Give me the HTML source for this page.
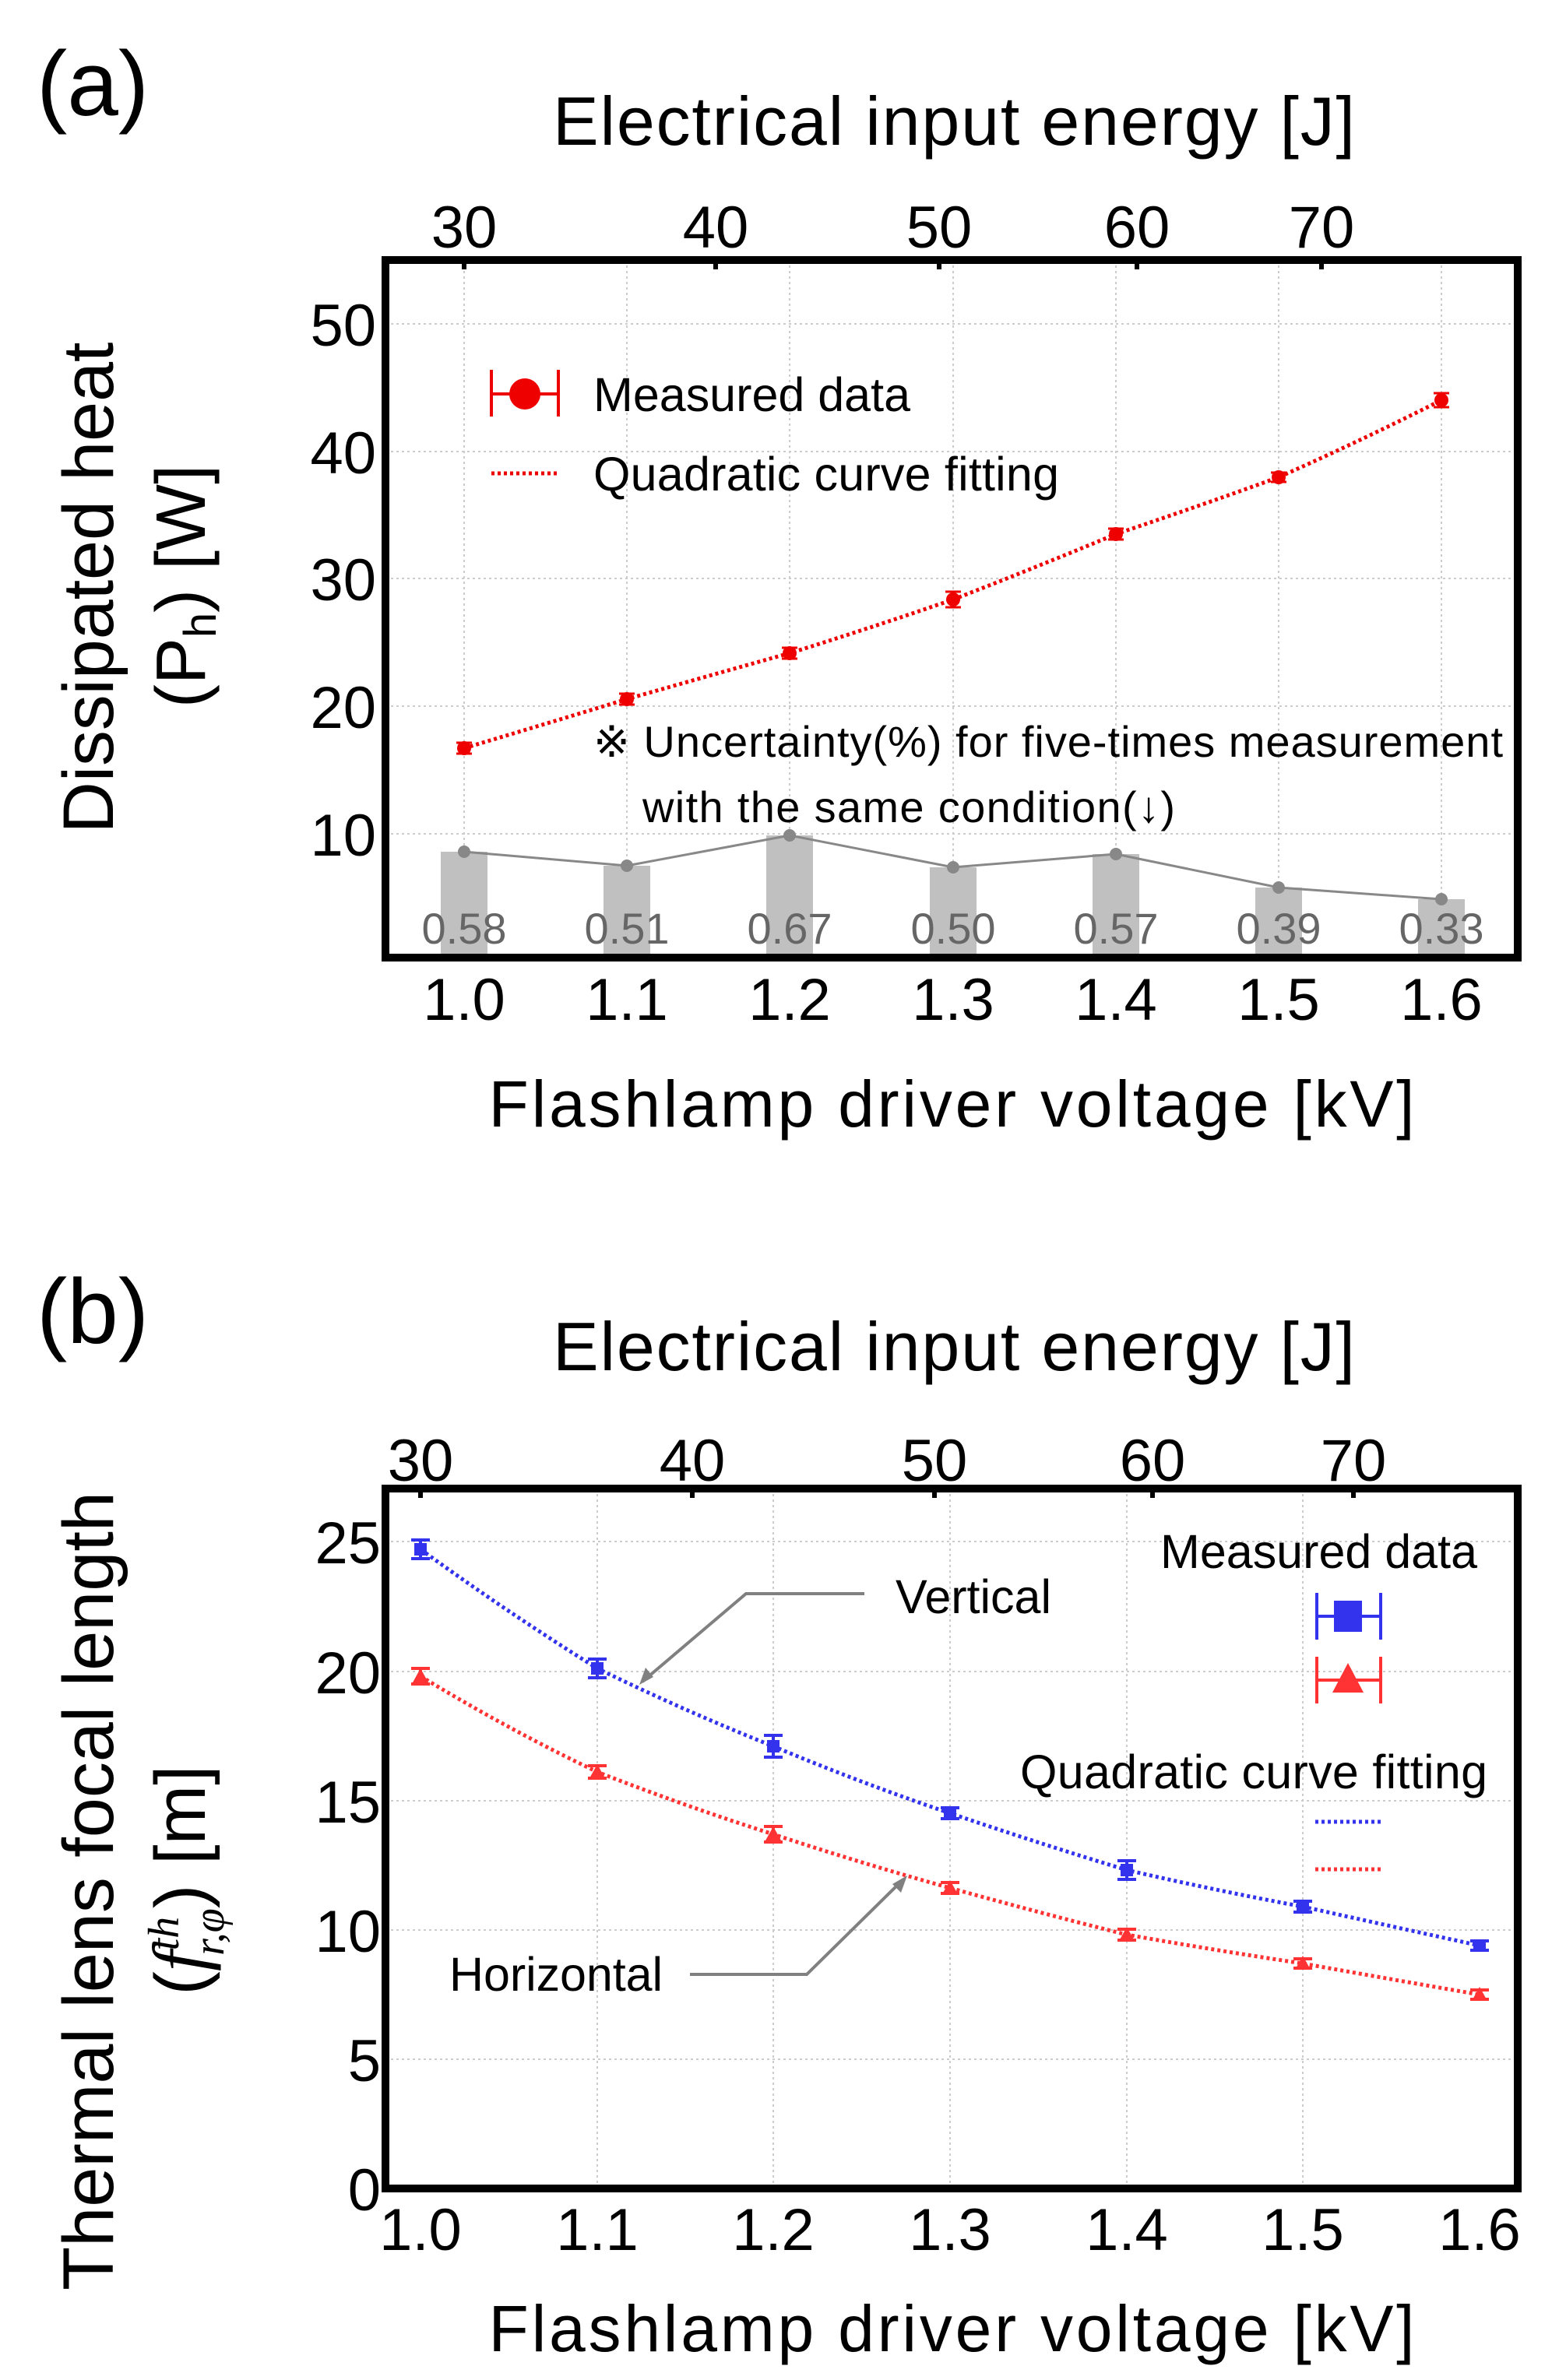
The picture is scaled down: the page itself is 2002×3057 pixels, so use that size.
<!DOCTYPE html>
<html><head><meta charset="utf-8"><style>
html,body{margin:0;padding:0;background:#fff;}
svg{display:block;font-family:"Liberation Sans",sans-serif;}
</style></head><body>
<svg width="2002" height="3057" viewBox="0 0 2002 3057" xmlns="http://www.w3.org/2000/svg">
<rect width="2002" height="3057" fill="#fff"/>
<!-- ========== (a) ========== -->
<text x="47" y="148" font-size="118">(a)</text>
<text x="710" y="186" font-size="88" textLength="1030">Electrical input energy [J]</text>
<g font-size="76" text-anchor="middle">
<text x="596" y="318">30</text><text x="919" y="318">40</text><text x="1206" y="318">50</text><text x="1460" y="318">60</text><text x="1697" y="318">70</text>
</g>
<g stroke="#ccc" stroke-width="2" stroke-dasharray="3 4">
<line x1="495" x2="1949" y1="1071" y2="1071"/><line x1="495" x2="1949" y1="907" y2="907"/><line x1="495" x2="1949" y1="743" y2="743"/><line x1="495" x2="1949" y1="580" y2="580"/><line x1="495" x2="1949" y1="416" y2="416"/>
<line y1="334" y2="1230" x1="596" x2="596"/><line y1="334" y2="1230" x1="805" x2="805"/><line y1="334" y2="1230" x1="1014" x2="1014"/><line y1="334" y2="1230" x1="1224" x2="1224"/><line y1="334" y2="1230" x1="1433" x2="1433"/><line y1="334" y2="1230" x1="1642" x2="1642"/><line y1="334" y2="1230" x1="1851" x2="1851"/>
</g>
<g fill="#c0c0c0">
<rect x="566" y="1094" width="60" height="131"/><rect x="775" y="1112" width="60" height="113"/><rect x="984" y="1073" width="60" height="152"/><rect x="1194" y="1114" width="60" height="111"/><rect x="1403" y="1097" width="60" height="128"/><rect x="1612" y="1140" width="60" height="85"/><rect x="1821" y="1155" width="60" height="70"/>
</g>
<polyline points="596,1094 805,1112 1014,1073 1224,1114 1433,1097 1642,1140 1851,1155" fill="none" stroke="#888" stroke-width="3"/>
<g fill="#888"><circle cx="596" cy="1094" r="8"/><circle cx="805" cy="1112" r="8"/><circle cx="1014" cy="1073" r="8"/><circle cx="1224" cy="1114" r="8"/><circle cx="1433" cy="1097" r="8"/><circle cx="1642" cy="1140" r="8"/><circle cx="1851" cy="1155" r="8"/></g>
<g font-size="56" fill="#666" text-anchor="middle">
<text x="596" y="1212">0.58</text><text x="805" y="1212">0.51</text><text x="1014" y="1212">0.67</text><text x="1224" y="1212">0.50</text><text x="1433" y="1212">0.57</text><text x="1642" y="1212">0.39</text><text x="1851" y="1212">0.33</text>
</g>
<path d="M596,961 Q700,930 805,898 Q910,868 1014,839 Q1120,806 1224,770 Q1330,729 1433,686 Q1540,650 1642,613 Q1750,565 1851,514" fill="none" stroke="#e00" stroke-width="5" stroke-dasharray="4 4"/>
<g stroke="#e00" stroke-width="3">
<path d="M586,954h20M596,954v14M586,968h20"/><path d="M795,891h20M805,891v14M795,905h20"/><path d="M1004,832h20M1014,832v14M1004,846h20"/><path d="M1214,760h20M1224,760v20M1214,780h20"/><path d="M1423,679h20M1433,679v14M1423,693h20"/><path d="M1632,607h20M1642,607v12M1632,619h20"/><path d="M1841,505h20M1851,505v18M1841,523h20"/>
</g>
<g fill="#e00"><circle cx="596" cy="961" r="9"/><circle cx="805" cy="898" r="9"/><circle cx="1014" cy="839" r="9"/><circle cx="1224" cy="770" r="9"/><circle cx="1433" cy="686" r="9"/><circle cx="1642" cy="613" r="9"/><circle cx="1851" cy="514" r="9"/></g>
<g stroke="#e00" stroke-width="4"><line x1="631" y1="475" x2="631" y2="535"/><line x1="717" y1="475" x2="717" y2="535"/><line x1="631" y1="506" x2="717" y2="506"/></g>
<circle cx="674" cy="506" r="20" fill="#e00"/>
<text x="762" y="528" font-size="61" textLength="407">Measured data</text>
<line x1="631" y1="608" x2="717" y2="608" stroke="#e00" stroke-width="5" stroke-dasharray="4 4"/>
<text x="762" y="630" font-size="61" textLength="598">Quadratic curve fitting</text>
<text x="762" y="972" font-size="56" textLength="1168">※ Uncertainty(%) for five-times measurement</text>
<text x="825" y="1056" font-size="56" textLength="684">with the same condition(↓)</text>
<rect x="495" y="334" width="1454" height="896" fill="none" stroke="#000" stroke-width="10"/>
<g stroke="#000" stroke-width="6"><line x1="596" x2="596" y1="334" y2="346"/><line x1="919" x2="919" y1="334" y2="346"/><line x1="1206" x2="1206" y1="334" y2="346"/><line x1="1460" x2="1460" y1="334" y2="346"/><line x1="1697" x2="1697" y1="334" y2="346"/></g>
<g font-size="76" text-anchor="end">
<text x="483" y="444">50</text><text x="483" y="608">40</text><text x="483" y="771">30</text><text x="483" y="935">20</text><text x="483" y="1099">10</text>
</g>
<g font-size="76" text-anchor="middle">
<text x="596" y="1310">1.0</text><text x="805" y="1310">1.1</text><text x="1014" y="1310">1.2</text><text x="1224" y="1310">1.3</text><text x="1433" y="1310">1.4</text><text x="1642" y="1310">1.5</text><text x="1851" y="1310">1.6</text>
</g>
<text x="1222" y="1447" font-size="84" text-anchor="middle" textLength="1189">Flashlamp driver voltage [kV]</text>
<text transform="translate(145,755) rotate(-90)" font-size="92" text-anchor="middle" textLength="631">Dissipated heat</text>
<text transform="translate(263,753) rotate(-90)" font-size="90" text-anchor="middle">(P<tspan font-size="58" dy="14">h</tspan><tspan dy="-14">) [W]</tspan></text>

<!-- ========== (b) ========== -->
<text x="47" y="1725" font-size="118">(b)</text>
<text x="710" y="1760" font-size="88" textLength="1030">Electrical input energy [J]</text>
<g font-size="76" text-anchor="middle">
<text x="540" y="1902">30</text><text x="889" y="1902">40</text><text x="1200" y="1902">50</text><text x="1480" y="1902">60</text><text x="1738" y="1902">70</text>
</g>
<g stroke="#ccc" stroke-width="2" stroke-dasharray="3 4">
<line x1="495" x2="1949" y1="2645" y2="2645"/><line x1="495" x2="1949" y1="2479" y2="2479"/><line x1="495" x2="1949" y1="2313" y2="2313"/><line x1="495" x2="1949" y1="2147" y2="2147"/><line x1="495" x2="1949" y1="1980" y2="1980"/>
<line y1="1912" y2="2811" x1="767" x2="767"/><line y1="1912" y2="2811" x1="993" x2="993"/><line y1="1912" y2="2811" x1="1220" x2="1220"/><line y1="1912" y2="2811" x1="1447" x2="1447"/><line y1="1912" y2="2811" x1="1673" x2="1673"/>
</g>
<path d="M540,1990 Q650,2070 767,2143 Q880,2198 993,2243 Q1105,2290 1220,2329 Q1335,2368 1447,2402 Q1560,2428 1673,2449 Q1790,2475 1900,2499" fill="none" stroke="#33e" stroke-width="5" stroke-dasharray="4 4"/>
<path d="M540,2153 Q650,2220 767,2276 Q880,2320 993,2356 Q1105,2393 1220,2425 Q1335,2457 1447,2485 Q1560,2505 1673,2522 Q1790,2543 1900,2562" fill="none" stroke="#f33" stroke-width="5" stroke-dasharray="4 4"/>
<g stroke="#33e" stroke-width="4">
<path d="M528,1978h24M540,1978v24M528,2002h24"/><path d="M755,2131h24M767,2131v24M755,2155h24"/><path d="M981,2229h24M993,2229v28M981,2257h24"/><path d="M1208,2322h24M1220,2322v14M1208,2336h24"/><path d="M1435,2390h24M1447,2390v24M1435,2414h24"/><path d="M1661,2442h24M1673,2442v14M1661,2456h24"/><path d="M1888,2493h24M1900,2493v12M1888,2505h24"/>
</g>
<g fill="#33e"><rect x="532" y="1982" width="16" height="16"/><rect x="759" y="2135" width="16" height="16"/><rect x="985" y="2235" width="16" height="16"/><rect x="1212" y="2321" width="16" height="16"/><rect x="1439" y="2394" width="16" height="16"/><rect x="1665" y="2441" width="16" height="16"/><rect x="1892" y="2491" width="16" height="16"/></g>
<g stroke="#f33" stroke-width="4">
<path d="M528,2143h24M540,2143v20M528,2163h24"/><path d="M755,2268h24M767,2268v16M755,2284h24"/><path d="M981,2346h24M993,2346v20M981,2366h24"/><path d="M1208,2418h24M1220,2418v14M1208,2432h24"/><path d="M1435,2478h24M1447,2478v14M1435,2492h24"/><path d="M1661,2516h24M1673,2516v12M1661,2528h24"/><path d="M1888,2556h24M1900,2556v12M1888,2568h24"/>
</g>
<g fill="#f33"><path d="M540,2143l10,18h-20z"/><path d="M767,2266l10,18h-20z"/><path d="M993,2346l10,18h-20z"/><path d="M1220,2415l10,18h-20z"/><path d="M1447,2475l10,18h-20z"/><path d="M1673,2512l10,18h-20z"/><path d="M1900,2552l10,18h-20z"/></g>
<text x="1150" y="2072" font-size="61" textLength="200">Vertical</text>
<polyline points="1110,2047 958,2047 825,2160" fill="none" stroke="#808080" stroke-width="4"/>
<path d="M821,2164l8,-22l10,12z" fill="#808080"/>
<text x="577" y="2557" font-size="61" textLength="274">Horizontal</text>
<polyline points="886,2536 1036,2536 1160,2414" fill="none" stroke="#808080" stroke-width="4"/>
<path d="M1165,2409l-8,22l-11,-11z" fill="#808080"/>
<text x="1490" y="2014" font-size="61" textLength="407">Measured data</text>
<g stroke="#33e" stroke-width="4"><line x1="1691" y1="2046" x2="1691" y2="2106"/><line x1="1773" y1="2046" x2="1773" y2="2106"/><line x1="1691" y1="2076" x2="1773" y2="2076"/></g>
<rect x="1713" y="2056" width="36" height="40" fill="#33e"/>
<g stroke="#f33" stroke-width="4"><line x1="1691" y1="2128" x2="1691" y2="2188"/><line x1="1773" y1="2128" x2="1773" y2="2188"/><line x1="1691" y1="2158" x2="1773" y2="2158"/></g>
<path d="M1731,2136l20,38h-40z" fill="#f33"/>
<text x="1310" y="2297" font-size="61" textLength="600">Quadratic curve fitting</text>
<line x1="1689" y1="2340" x2="1775" y2="2340" stroke="#33e" stroke-width="5" stroke-dasharray="4 4"/>
<line x1="1689" y1="2401" x2="1775" y2="2401" stroke="#f33" stroke-width="5" stroke-dasharray="4 4"/>
<rect x="495" y="1912" width="1454" height="899" fill="none" stroke="#000" stroke-width="10"/>
<g stroke="#000" stroke-width="6"><line x1="540" x2="540" y1="1912" y2="1924"/><line x1="889" x2="889" y1="1912" y2="1924"/><line x1="1200" x2="1200" y1="1912" y2="1924"/><line x1="1480" x2="1480" y1="1912" y2="1924"/><line x1="1738" x2="1738" y1="1912" y2="1924"/></g>
<g font-size="76" text-anchor="end">
<text x="489" y="2839">0</text><text x="489" y="2673">5</text><text x="489" y="2507">10</text><text x="489" y="2341">15</text><text x="489" y="2175">20</text><text x="489" y="2008">25</text>
</g>
<g font-size="76" text-anchor="middle">
<text x="540" y="2890">1.0</text><text x="767" y="2890">1.1</text><text x="993" y="2890">1.2</text><text x="1220" y="2890">1.3</text><text x="1447" y="2890">1.4</text><text x="1673" y="2890">1.5</text><text x="1900" y="2890">1.6</text>
</g>
<text x="1222" y="3020" font-size="84" text-anchor="middle" textLength="1189">Flashlamp driver voltage [kV]</text>
<text transform="translate(145,2429) rotate(-90)" font-size="92" text-anchor="middle" textLength="1026">Thermal lens focal length</text>
<text transform="translate(263,2415) rotate(-90)" font-size="92" text-anchor="middle">(<tspan font-family="Liberation Serif" font-style="italic" font-size="96">f</tspan><tspan font-family="Liberation Serif" font-style="italic" font-size="56" dy="-34">th</tspan><tspan font-family="Liberation Serif" font-style="italic" font-size="56" dx="-50" dy="58">r,φ</tspan><tspan dy="-24">) [m]</tspan></text>
</svg>
</body></html>
